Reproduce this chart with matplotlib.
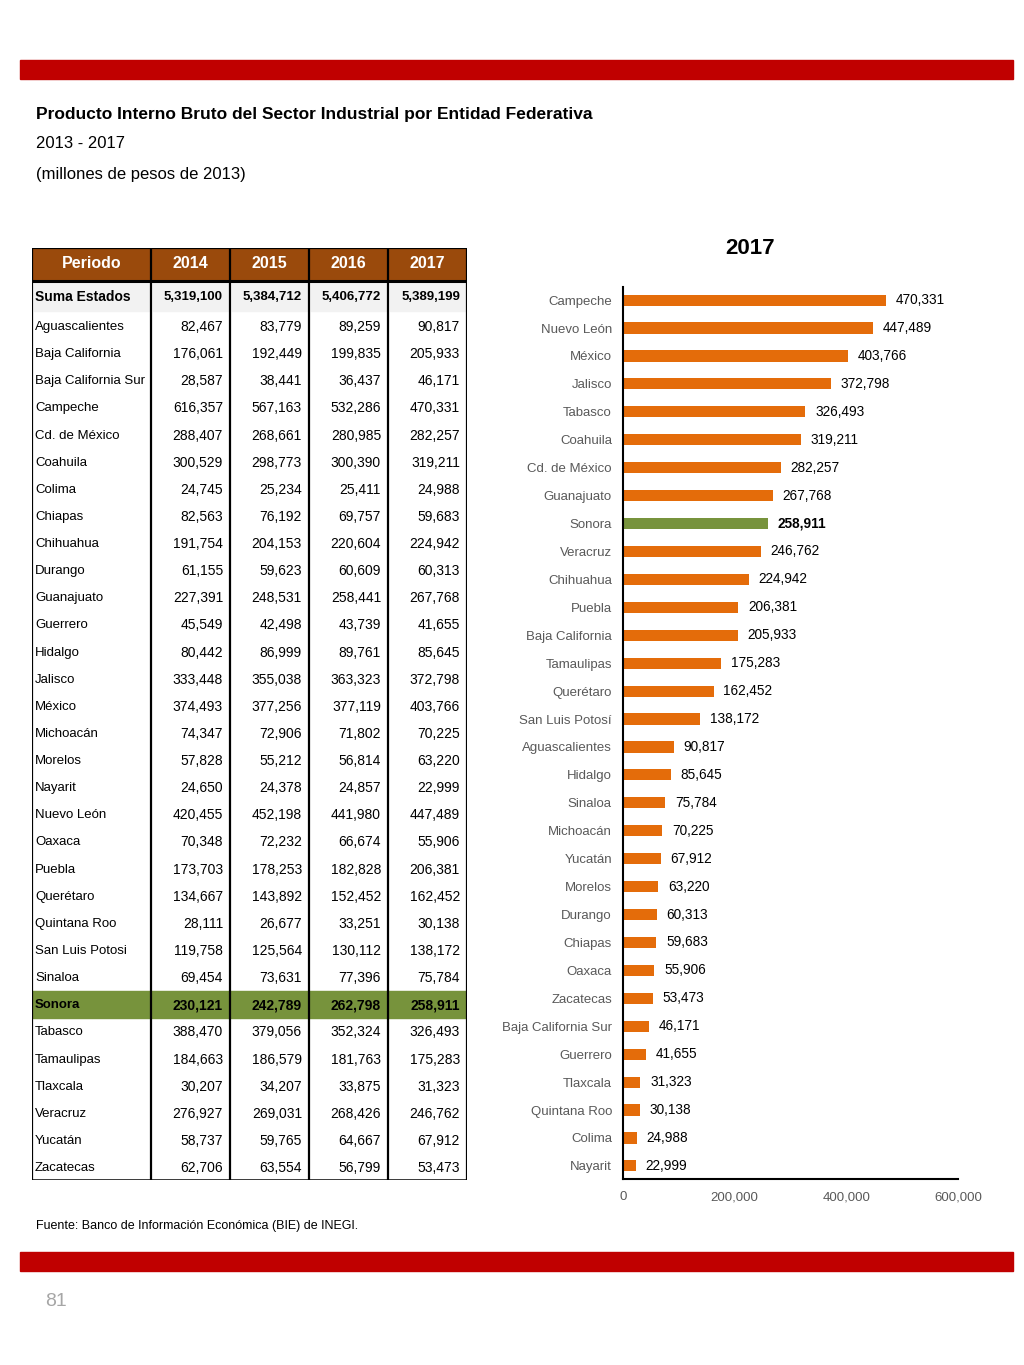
import numpy as np
import matplotlib
matplotlib.use('Agg')
from matplotlib import pyplot as plt
import matplotlib.patches as patches

#=============================== Data ===============================
states = ['Aguascalientes', 'Baja California', 'Baja California Sur', 'Campeche',
          'Cd. de México', 'Coahuila', 'Colima', 'Chiapas', 'Chihuahua', 'Durango',
          'Guanajuato', 'Guerrero', 'Hidalgo', 'Jalisco', 'México', 'Michoacán',
          'Morelos', 'Nayarit', 'Nuevo León', 'Oaxaca', 'Puebla', 'Querétaro',
          'Quintana Roo', 'San Luis Potosí', 'Sinaloa', 'Sonora', 'Tabasco',
          'Tamaulipas', 'Tlaxcala', 'Veracruz', 'Yucatán', 'Zacatecas']
# the table spells it without the accent
table_names = [n if n != 'San Luis Potosí' else 'San Luis Potosi' for n in states]

years = ['2014', '2015', '2016', '2017']
total = [5319100, 5384712, 5406772, 5389199]

v2014 = [82467, 176061, 28587, 616357, 288407, 300529, 24745, 82563, 191754, 61155,
         227391, 45549, 80442, 333448, 374493, 74347, 57828, 24650, 420455, 70348,
         173703, 134667, 28111, 119758, 69454, 230121, 388470, 184663, 30207, 276927,
         58737, 62706]
v2015 = [83779, 192449, 38441, 567163, 268661, 298773, 25234, 76192, 204153, 59623,
         248531, 42498, 86999, 355038, 377256, 72906, 55212, 24378, 452198, 72232,
         178253, 143892, 26677, 125564, 73631, 242789, 379056, 186579, 34207, 269031,
         59765, 63554]
v2016 = [89259, 199835, 36437, 532286, 280985, 300390, 25411, 69757, 220604, 60609,
         258441, 43739, 89761, 363323, 377119, 71802, 56814, 24857, 441980, 66674,
         182828, 152452, 33251, 130112, 77396, 262798, 352324, 181763, 33875, 268426,
         64667, 56799]
v2017 = [90817, 205933, 46171, 470331, 282257, 319211, 24988, 59683, 224942, 60313,
         267768, 41655, 85645, 372798, 403766, 70225, 63220, 22999, 447489, 55906,
         206381, 162452, 30138, 138172, 75784, 258911, 326493, 175283, 31323, 246762,
         67912, 53473]
highlight = 'Sonora'

#=============================== Style ==============================
W, H = 1024, 1365
RED = '#C00000'
BROWN = '#9A4A0C'
GREEN = '#77933C'
ORANGE = '#E46C0A'
GRAY = '#595959'
plt.rcParams['font.family'] = ['Liberation Sans', 'DejaVu Sans']

def fx(px):
    return px / W

def fy(py):
    return 1 - py / H

fig = plt.figure(figsize=(W / 100, H / 100), dpi=100)

# red page bands
for top in (60, 1252):
    fig.patches.append(patches.Rectangle((fx(20), fy(top + 19)), fx(993), 19 / H,
                                         transform=fig.transFigure, color=RED, zorder=0))

fig.text(fx(36), fy(114), 'Producto Interno Bruto del Sector Industrial por Entidad Federativa',
         fontsize=12.5, fontweight='bold', va='center', ha='left')
fig.text(fx(36), fy(144), '2013 - 2017', fontsize=12, va='center', ha='left')
fig.text(fx(36), fy(174), '(millones de pesos de 2013)', fontsize=12, va='center', ha='left')
fig.text(fx(36), fy(1226), 'Fuente: Banco de Información Económica (BIE) de INEGI.',
         fontsize=9, va='center', ha='left')
fig.text(fx(45), fy(1302), '81', fontsize=14, color='#A6A6A6', va='center', ha='left')

#=============================== Table ==============================
tx0, tx1, ty0, ty1 = 32, 467, 248, 1180
tab = fig.add_axes([fx(tx0), fy(ty1), fx(tx1 - tx0), (ty1 - ty0) / H])
tab.set_xlim(tx0, tx1)
tab.set_ylim(ty1, ty0)
tab.axis('off')

col_edges = [32, 151, 230, 309, 388, 467]
row_step = 27.13
first_row = 326
header_bottom = 280
TXT = 9.5
NUM = 10

# header
tab.add_patch(patches.Rectangle((tx0, ty0), tx1 - tx0, header_bottom - ty0, color=BROWN, zorder=1))
tab.text((col_edges[0] + col_edges[1]) / 2, 263, 'Periodo', color='white', fontsize=11.5,
         fontweight='bold', ha='center', va='center', zorder=3)
for j, yr in enumerate(years):
    tab.text((col_edges[j + 1] + col_edges[j + 2]) / 2, 263, yr, color='white', fontsize=11.5,
             fontweight='bold', ha='center', va='center', zorder=3)

# total row
suma_top, suma_bot = 282, first_row - row_step / 2
for j in range(5):
    tab.add_patch(patches.Rectangle((col_edges[j] + 2, suma_top + 1), col_edges[j + 1] - col_edges[j] - 4,
                                    suma_bot - suma_top - 2, color='#F2F2F2', zorder=1))
tab.text(35, 297, 'Suma Estados', fontsize=TXT + 0.5, fontweight='bold', ha='left', va='center', zorder=3)
for j, val in enumerate(total):
    tab.text(col_edges[j + 2] - 7, 297, f'{val:,}', fontsize=NUM - 0.5, fontweight='bold',
             ha='right', va='center', zorder=3)

# state rows
series = [v2014, v2015, v2016, v2017]
for i, name in enumerate(table_names):
    yc = first_row + i * row_step
    bold = states[i] == highlight
    if bold:
        tab.add_patch(patches.Rectangle((tx0, yc - row_step / 2), tx1 - tx0, row_step,
                                        color=GREEN, zorder=1))
    tab.text(35, yc + 1, name, fontsize=TXT, ha='left', va='center', zorder=3,
             fontweight='bold' if bold else 'normal')
    for j, s in enumerate(series):
        tab.text(col_edges[j + 2] - 7, yc + 1, f'{s[i]:,}', fontsize=NUM, ha='right', va='center',
                 zorder=3, fontweight='bold' if bold else 'normal')

# grid lines
for x in col_edges:
    tab.plot([x, x], [ty0, ty1], color='black', lw=1.6, zorder=4, solid_capstyle='butt')
tab.plot([tx0, tx1], [ty0, ty0], color='black', lw=1.6, zorder=4)
tab.plot([tx0, tx1], [header_bottom + 1, header_bottom + 1], color='black', lw=2.2, zorder=4)
tab.plot([tx0, tx1], [ty1, ty1], color='black', lw=1.8, zorder=4)

#=============================== Bar chart ==========================
order = np.argsort(v2017)[::-1]
bar_names = [states[k] for k in order]
bar_vals = [v2017[k] for k in order]
colors = [GREEN if n == highlight else ORANGE for n in bar_names]

ax = fig.add_axes([fx(623), fy(1179), fx(958 - 623), (1179 - 287) / H])
ypos = np.arange(len(bar_vals))
ax.barh(ypos, bar_vals, height=0.4, color=colors, zorder=2)
ax.set_ylim(len(bar_vals) - 0.53, -0.47)
ax.set_xlim(0, 600000)
ticks = [0, 200000, 400000, 600000]
ax.set_xticks(ticks)
ax.set_xticklabels([f'{t:,}' for t in ticks])
ax.set_yticks(ypos)
ax.set_yticklabels(bar_names)
ax.tick_params(axis='both', length=0, colors=GRAY, labelsize=9.5)
ax.tick_params(axis='y', pad=8)
ax.tick_params(axis='x', pad=9)
for side in ('top', 'right'):
    ax.spines[side].set_visible(False)
ax.spines['left'].set_linewidth(1.5)
ax.spines['bottom'].set_linewidth(1.5)

for y, v, n in zip(ypos, bar_vals, bar_names):
    ax.annotate(f'{v:,}', xy=(v, y), xytext=(7, 0), textcoords='offset points',
                ha='left', va='center', fontsize=9.8, color='black',
                fontweight='bold' if n == highlight else 'normal')

fig.text(fx(750), fy(248), '2017', fontsize=16, fontweight='bold', ha='center', va='center')

fig.savefig('out.png', dpi=100, facecolor='white')
